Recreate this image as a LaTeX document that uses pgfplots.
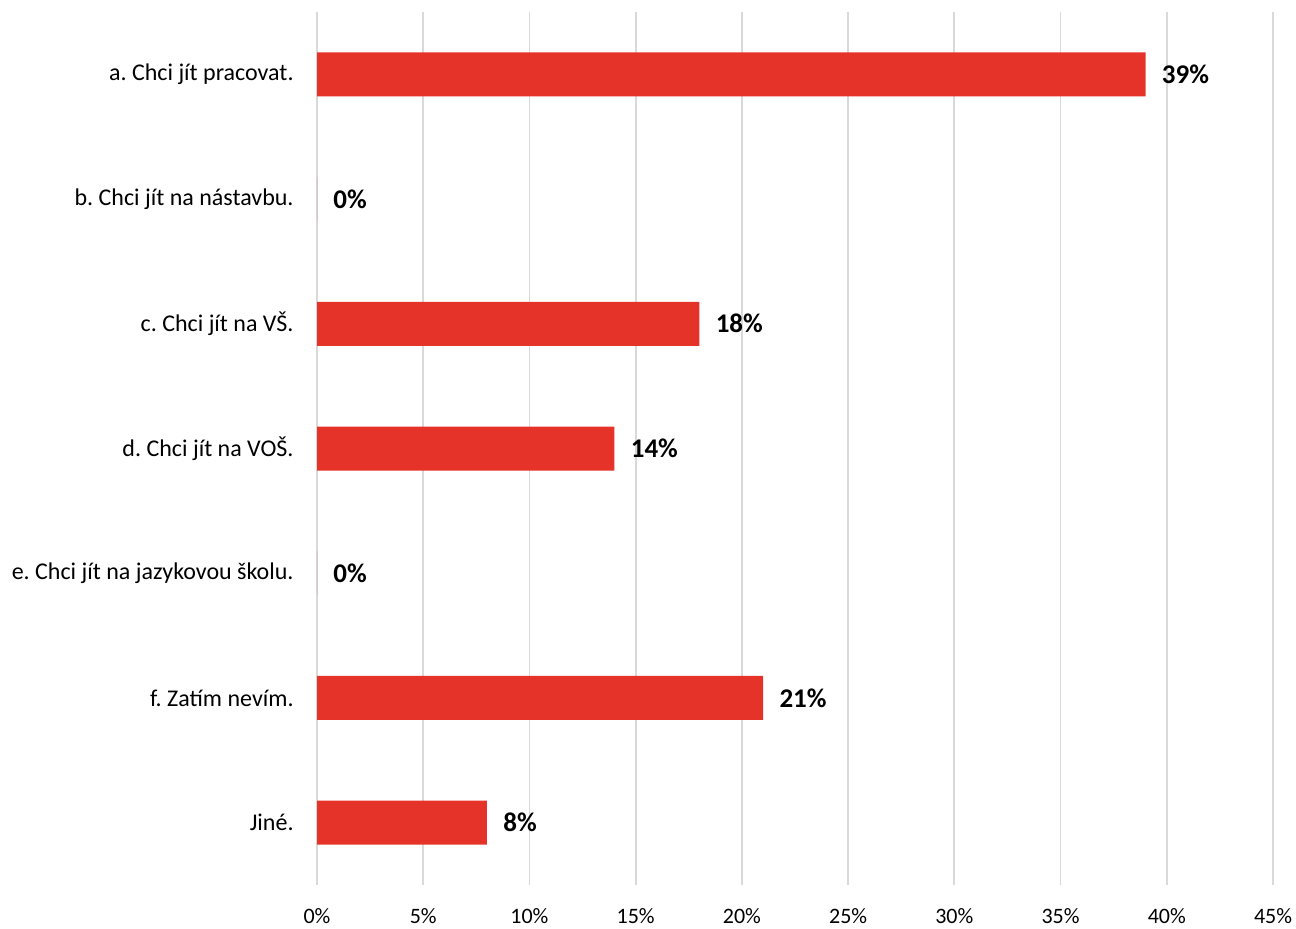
\documentclass[border=0pt]{standalone}
\usepackage{fontspec}
\setmainfont{Carlito}
\usepackage{pgfplots}
\pgfplotsset{compat=1.18}
\definecolor{barred}{RGB}{229,51,42}
\definecolor{gridgray}{RGB}{217,217,217}

\begin{document}
\frenchspacing
\begin{tikzpicture}
\begin{axis}[
    xbar,
    scale only axis,
    width=478pt, height=436.5pt,
    xmin=0, xmax=45,
    ymin=-0.5, ymax=6.5,
    y dir=reverse,
    ytick={0,1,2,3,4,5,6},
    yticklabels={a. Chci jít pracovat., b. Chci jít na nástavbu., c. Chci jít na VŠ., d. Chci jít na VOŠ., e. Chci jít na jazykovou školu., f. Zatím nevím., Jiné.},
    xtick={0,5,...,45},
    xticklabel={\pgfmathprintnumber{\tick}\%},
    /pgf/number format/assume math mode=true,
    major tick length=0pt,
    axis line style={draw=none},
    xmajorgrids,
    major grid style={gridgray, line width=0.9pt},
    yticklabel style={font=\fontsize{12}{14}\selectfont, anchor=east, inner sep=0pt, xshift=-11.5pt},
    xticklabel style={font=\fontsize{11}{13}\selectfont, anchor=base, inner sep=0pt, yshift=-19.25pt},
    bar width=22pt,
    bar shift=0pt,
    nodes near coords={\pgfmathprintnumber{\pgfplotspointmeta}\%},
    nodes near coords style={font=\fontsize{13.5}{15}\selectfont\bfseries, anchor=west, inner sep=0pt, xshift=8pt},
    point meta=x,
]
\addplot[fill=barred, draw=none] coordinates {
    (39,0) (0,1) (18,2) (14,3) (0,4) (21,5) (8,6)
};
\end{axis}
\pgfresetboundingbox
\path ([xshift=-158.5pt,yshift=-21.5pt]current axis.south west) rectangle ([xshift=11.5pt,yshift=6pt]current axis.north east);
\end{tikzpicture}
\end{document}
